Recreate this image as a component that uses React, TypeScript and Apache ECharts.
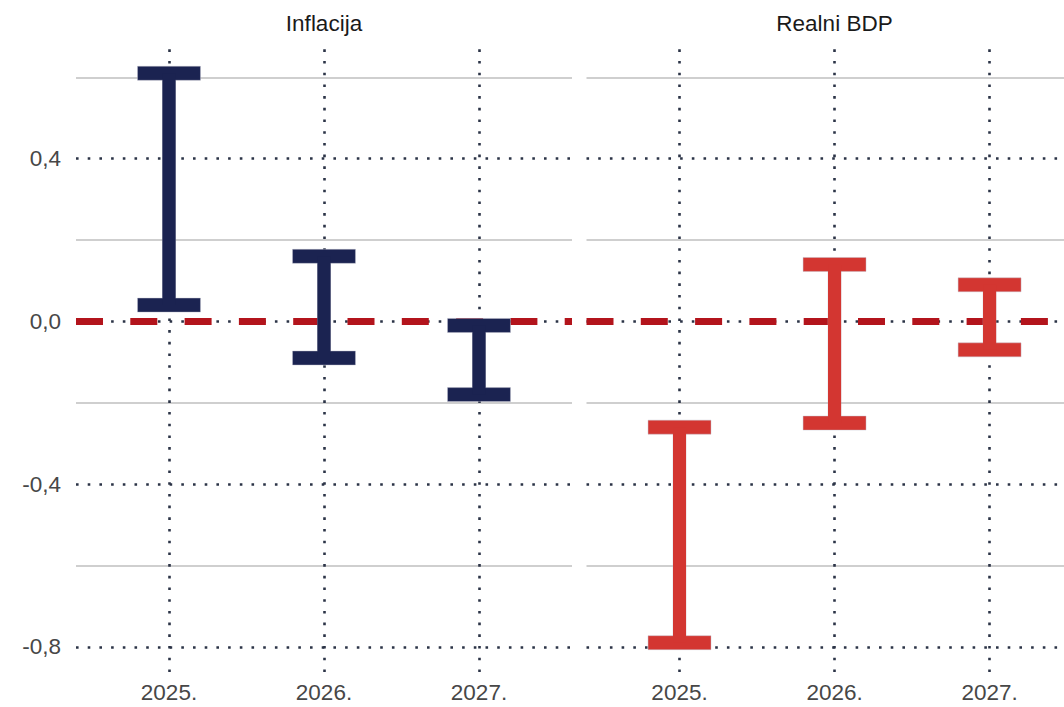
import React, { useEffect, useRef } from "react";
import * as echarts from "echarts";

const years = ["2025.", "2026.", "2027."];
const panelTitles = ["Inflacija", "Realni BDP"];
const inflLow = [0.04, -0.09, -0.18];
const inflHigh = [0.61, 0.16, -0.01];
const gdpLow = [-0.79, -0.25, -0.07];
const gdpHigh = [-0.26, 0.14, 0.09];
const majorTicks = [-0.8, -0.4, 0, 0.4];
const minorLines = [-0.6, -0.2, 0.2, 0.6];
const yMin = -0.862;
const yMax = 0.682;

const FONT = "'Liberation Sans', Arial, Helvetica, sans-serif";
const NAVY = "#1b2351";
const RED = "#d33631";
const DOT = "#2b3346";
const CAP_HALF = 0.203;
const STEM = 13;
const CAP_T = 14;
// panels: [left px, right px, x-axis max]; right panel is cropped by the page edge
const PANELS = [
  { left: 76, right: 1064 - 572, xMax: 3.6, titleX: 324 },
  { left: 586.5, right: 0, xMax: 3.48, titleX: 834.5 },
];

export default function App() {
  const ref = useRef<HTMLDivElement>(null);
  useEffect(() => {
    if (!ref.current) return;
    const chart = echarts.init(ref.current, null, { renderer: "svg" });
    const fmtY = (v: number) => (Math.abs(v) < 1e-9 ? 0 : v).toFixed(1).replace(".", ",");

    const grids = PANELS.map((p) => ({ left: p.left, right: p.right, top: 44, height: 628 }));
    const xAxes = PANELS.map((p, i) => ({
      type: "value",
      gridIndex: i,
      min: 0.4,
      max: p.xMax,
      axisLine: { show: false },
      axisTick: { show: false },
      splitLine: { show: false },
      axisLabel: {
        customValues: [1, 2, 3],
        formatter: (v: number) => years[Math.round(v) - 1] ?? "",
        color: "#474747",
        fontSize: 22.5,
        fontFamily: FONT,
        margin: 9,
      },
    }));
    const yAxes = PANELS.map((_, i) => ({
      type: "value",
      gridIndex: i,
      min: yMin,
      max: yMax,
      axisLine: { show: false },
      axisTick: { show: false },
      splitLine: { show: false },
      axisLabel: {
        show: i === 0,
        customValues: majorTicks,
        formatter: fmtY,
        color: "#474747",
        fontSize: 22.5,
        fontFamily: FONT,
        margin: 15,
      },
    }));

    const series: any[] = [];
    const lows = [inflLow, gdpLow];
    const highs = [inflHigh, gdpHigh];
    const colors = [NAVY, RED];
    for (let i = 0; i < 2; i++) {
      series.push({
        type: "line",
        xAxisIndex: i,
        yAxisIndex: i,
        data: [],
        z: 1,
        silent: true,
        markLine: {
          silent: true,
          symbol: "none",
          label: { show: false },
          lineStyle: { color: "#cfcfcf", width: 1.8, type: "solid" },
          data: minorLines.map((v) => ({ yAxis: v })),
        },
      });
      series.push({
        type: "line",
        xAxisIndex: i,
        yAxisIndex: i,
        data: [],
        z: 2,
        silent: true,
        markLine: {
          silent: true,
          symbol: "none",
          label: { show: false },
          lineStyle: { color: DOT, width: 2.6, type: [2.6, 9.1], cap: "butt" },
          data: [
            ...majorTicks.map((v) => ({ yAxis: v })),
            ...years.map((_, k) => ({ xAxis: k + 1 })),
          ],
        },
      });
      series.push({
        type: "line",
        xAxisIndex: i,
        yAxisIndex: i,
        data: [],
        z: 3,
        silent: true,
        markLine: {
          silent: true,
          symbol: "none",
          label: { show: false },
          lineStyle: { color: "#b3141c", width: 7, type: [27, 27.3], cap: "butt" },
          data: [{ yAxis: 0 }],
        },
      });
      series.push({
        type: "custom",
        xAxisIndex: i,
        yAxisIndex: i,
        z: 5,
        silent: true,
        itemStyle: { color: colors[i] },
        data: years.map((_, k) => [k + 1, lows[i][k], highs[i][k]]),
        renderItem: (params: any, api: any) => {
          const x = api.value(0);
          const lo = api.value(1);
          const hi = api.value(2);
          const pLo = api.coord([x, lo]);
          const pHi = api.coord([x, hi]);
          const capL = api.coord([x - CAP_HALF, hi])[0];
          const capR = api.coord([x + CAP_HALF, hi])[0];
          const color = api.visual("color");
          const st = { fill: color, stroke: "rgba(190,190,205,0.55)", lineWidth: 0.8 };
          return {
            type: "group",
            children: [
              { type: "rect", shape: { x: pHi[0] - STEM / 2, y: pHi[1], width: STEM, height: pLo[1] - pHi[1] }, style: st },
              { type: "rect", shape: { x: capL, y: pHi[1] - CAP_T / 2, width: capR - capL, height: CAP_T }, style: st },
              { type: "rect", shape: { x: capL, y: pLo[1] - CAP_T / 2, width: capR - capL, height: CAP_T }, style: st },
              { type: "rect", shape: { x: pHi[0] - STEM / 2, y: pHi[1], width: STEM, height: pLo[1] - pHi[1] }, style: { fill: color } },
            ],
          };
        },
      });
    }

    chart.setOption({
      animation: false,
      backgroundColor: "#ffffff",
      grid: grids,
      xAxis: xAxes,
      yAxis: yAxes,
      series,
      graphic: panelTitles.map((t, i) => ({
        type: "text",
        x: PANELS[i].titleX,
        y: 23,
        style: {
          text: t,
          textAlign: "center",
          textVerticalAlign: "middle",
          fill: "#1a1a1a",
          fontSize: 22.5,
          fontFamily: FONT,
        },
      })),
    });
    return () => chart.dispose();
  }, []);
  return (
    <div
      ref={ref}
      style={{ position: "fixed", left: 0, top: 0, width: 1064, height: 707, background: "#fff" }}
    />
  );
}
